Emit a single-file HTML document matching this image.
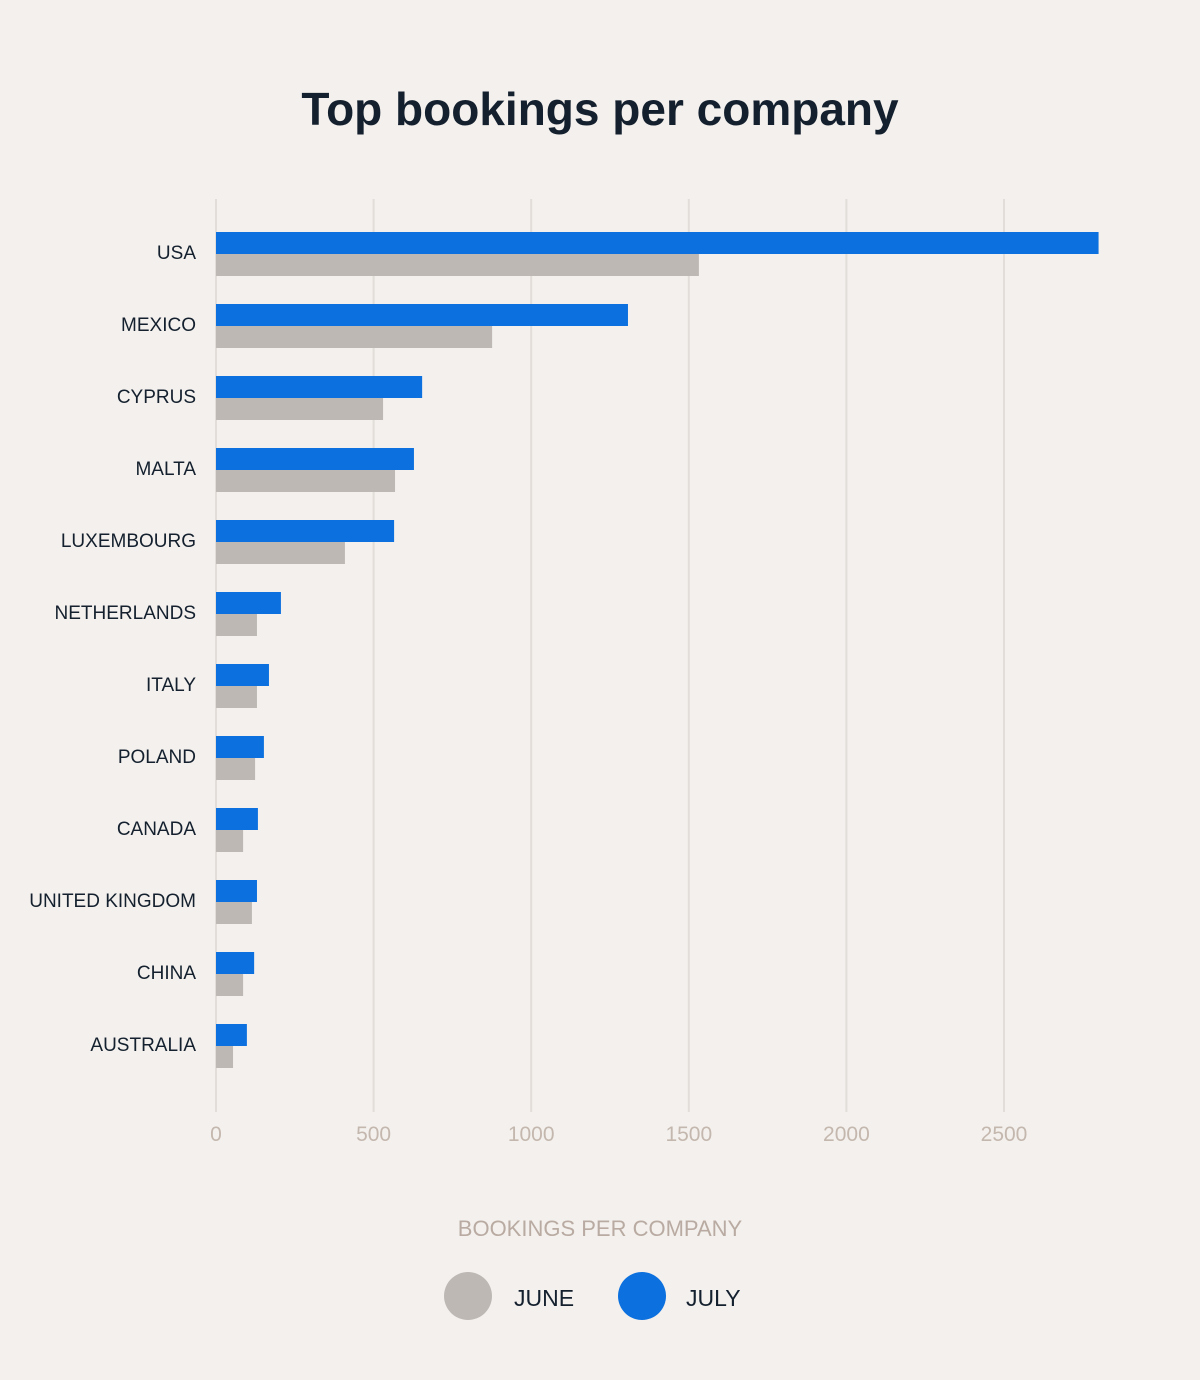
<!DOCTYPE html>
<html><head><meta charset="utf-8"><style>
html,body{margin:0;padding:0;background:#f3f0ed;}
svg{display:block;font-family:"Liberation Sans",sans-serif;}
</style></head><body>
<svg id="chart" width="1200" height="1380" viewBox="0 0 1200 1380">
<rect width="1200" height="1380" fill="#f3f0ed"/>
<text x="600" y="125" text-anchor="middle" font-size="46" font-weight="bold" fill="#14202e">Top bookings per company</text>
<g id="grid"></g>
<g id="bars"></g>
<g id="ylabels"></g>
<g id="xlabels"></g>
<text x="600" y="1236" text-anchor="middle" font-size="22" fill="#b9aba2">BOOKINGS PER COMPANY</text>
<g>
<g>
<circle cx="468" cy="1296" r="24" fill="#bdb8b4"/>
<text x="514" y="1306" font-size="23" fill="#14202e">JUNE</text></g>
<g>
<circle cx="642" cy="1296" r="24" fill="#0c70de"/>
<text x="686" y="1306" font-size="23" fill="#14202e">JULY</text></g>
</g>
</svg>
<script>
const categories = ["USA","MEXICO","CYPRUS","MALTA","LUXEMBOURG","NETHERLANDS","ITALY","POLAND","CANADA","UNITED KINGDOM","CHINA","AUSTRALIA"];
const julyValues = [2800,1307,654,628,565,206,168,152,133,130,121,98];
const juneValues = [1532,876,530,568,409,130,130,124,86,114,86,54];
const xTicks = [0,500,1000,1500,2000,2500];

const NS="http://www.w3.org/2000/svg";
const x0=216, pxPer=157.6/500;
const xScale=v=>x0+v*pxPer;
const rowTop=i=>232+i*72;
function mk(tag,attrs,parent){const e=document.createElementNS(NS,tag);for(const k in attrs)e.setAttribute(k,attrs[k]);parent.appendChild(e);return e;}
const grid=document.getElementById('grid'),bars=document.getElementById('bars'),yl=document.getElementById('ylabels'),xl=document.getElementById('xlabels');
xTicks.forEach(t=>{
  const l=mk('line',{x1:xScale(t),x2:xScale(t),y1:199,y2:1112,stroke:"#e2ddd8","stroke-width":2},grid);
  
  
  const tx=mk('text',{x:xScale(t),y:1141,"text-anchor":"middle","font-size":21,fill:"#c4b7ae"},xl);
  tx.textContent=t;
  
  
});
categories.forEach((c,i)=>{
  const y=rowTop(i);
  const b1=mk('rect',{x:x0,y:y,width:xScale(julyValues[i])-x0,height:22,fill:"#0c70de"},bars);
  
  
  const b2=mk('rect',{x:x0,y:y+22,width:xScale(juneValues[i])-x0,height:22,fill:"#bdb8b4"},bars);
  
  
  const t=mk('text',{x:196,y:y+27,"text-anchor":"end","font-size":19,fill:"#14202e"},yl);
  t.textContent=c;
  
  
});
</script>
</body></html>
